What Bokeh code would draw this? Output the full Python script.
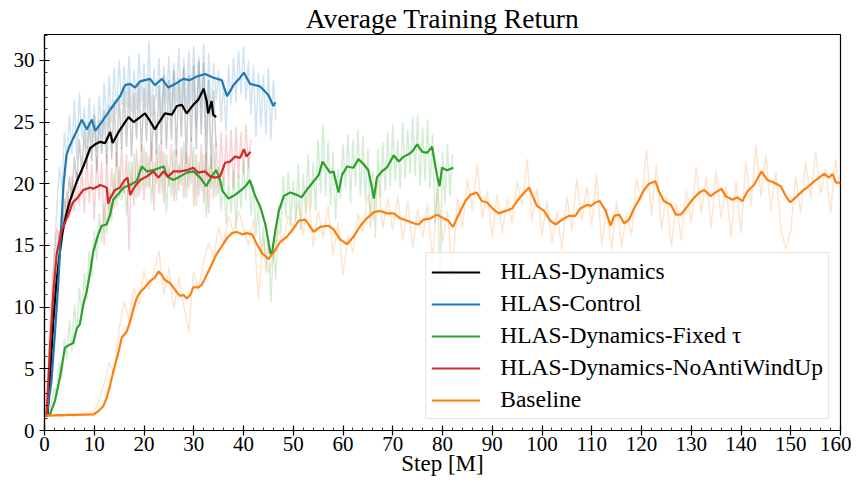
import numpy as np
from bokeh.plotting import figure
from bokeh.models import Range1d, Legend, LegendItem, SingleIntervalTicker
from bokeh.embed import file_html
from bokeh.resources import INLINE

series_names = ["HLAS-Dynamics", "HLAS-Control", "HLAS-Dynamics-Fixed \u03c4",
                "HLAS-Dynamics-NoAntiWindUp", "Baseline"]

dyn_x = [0, 0.6, 1.2, 1.8, 2.4, 3.0, 3.6, 4.3, 5.1, 6.5, 7.8, 9.2, 10.2, 11.2, 12.2, 13.2, 13.7, 14.9, 16.2,
         16.9, 17.9, 18.9, 20.2, 21.2, 22.2, 22.9, 24.2, 25.6, 26.6, 27.6, 28.6, 29.9, 30.9, 32.0, 32.6, 32.9,
         33.6, 33.9, 34.5]
dyn_y = [1.2, 1.2, 5.0, 9.0, 12.0, 14.2, 16.0, 17.4, 18.6, 20.2, 21.4, 22.9, 23.2, 23.4, 23.3, 24.2, 23.3, 24.2,
         25.0, 25.4, 25.0, 25.3, 25.7, 25.1, 24.4, 24.9, 25.7, 25.6, 26.3, 26.4, 25.7, 26.4, 26.8, 27.7, 26.7,
         25.7, 26.7, 25.6, 25.4]
ctl_x = [0, 0.5, 1.4, 2.2, 2.8, 3.3, 3.8, 4.4, 5.0, 5.8, 6.5, 7.5, 8.5, 9.5, 10.2, 11.5, 13.2, 15.2, 16.2, 17.2,
         18.2, 19.2, 21.2, 22.2, 23.6, 24.9, 26.3, 27.9, 29.2, 30.6, 32.3, 34.0, 35.6, 36.7, 38.0, 39.3, 40.1,
         41.3, 43.3, 45.0, 46.0, 46.4]
ctl_y = [1.2, 1.3, 4.0, 8.5, 12.1, 16.0, 19.8, 22.3, 23.0, 23.7, 24.3, 25.2, 24.4, 25.2, 24.3, 25.0, 26.0, 27.1,
         28.0, 28.1, 27.8, 28.3, 28.5, 28.0, 28.5, 27.8, 28.1, 28.5, 28.4, 28.7, 28.9, 28.6, 28.4, 27.1, 28.0,
         28.6, 29.0, 28.1, 27.9, 27.2, 26.3, 26.6]
fix_x = [0, 1.1, 2.1, 3.1, 4.1, 4.8, 5.8, 6.5, 7.1, 7.8, 8.5, 9.2, 9.8, 10.8, 11.5, 12.5, 13.2, 13.8, 14.9, 15.9,
         17.2, 18.5, 19.6, 20.6, 21.9, 23.2, 24.0, 24.6, 25.9, 27.3, 28.6, 29.9, 31.3, 32.5, 33.6, 34.5, 35.3,
         35.8, 37.0, 38.3, 39.6, 40.6, 41.3, 42.0, 42.7, 43.4, 44.4, 45.4, 45.7, 46.4, 47.1, 48.1, 49.4, 50.7,
         51.7, 52.7, 53.7, 55.1, 55.9, 56.7, 57.4, 58.1, 59.1, 59.8, 60.8, 62.1, 63.1, 64.1, 65.1, 65.8, 66.2,
         66.8, 67.8, 68.8, 70.2, 71.2, 72.2, 73.2, 73.9, 74.9, 75.9, 76.9, 77.9, 78.9, 79.4, 79.9, 80.9, 82.2]
fix_y = [1.2, 1.3, 2.4, 4.3, 6.7, 6.9, 7.1, 8.3, 8.6, 10.2, 11.3, 12.9, 14.5, 15.9, 16.6, 16.7, 17.5, 18.7, 19.2,
         19.7, 19.9, 20.2, 21.4, 21.0, 21.1, 21.3, 21.4, 20.6, 20.3, 20.6, 20.9, 21.0, 20.5, 19.8, 20.6, 21.1,
         20.3, 19.4, 18.8, 19.1, 19.5, 19.9, 20.3, 19.4, 18.7, 18.1, 16.7, 14.4, 14.3, 16.2, 17.8, 19.0, 19.3,
         19.1, 18.9, 19.5, 20.0, 20.7, 21.8, 21.3, 20.9, 21.0, 19.3, 20.7, 21.4, 21.3, 22.0, 21.6, 21.1, 19.7,
         18.8, 20.5, 21.0, 21.3, 22.3, 21.8, 22.2, 22.4, 22.6, 23.2, 22.6, 22.5, 23.0, 20.7, 19.8, 21.3, 21.1, 21.3]
naw_x = [0, 0.44, 1.1, 1.8, 2.45, 3.46, 4.8, 5.7, 6.5, 7.8, 9.2, 9.8, 10.8, 11.2, 12.5, 12.8, 13.2, 13.85, 14.2,
         15.2, 15.9, 16.7, 17.2, 18.2, 19.2, 20.6, 21.9, 22.9, 23.9, 24.9, 25.9, 27.3, 28.6, 29.9, 30.9, 32.3,
         33.3, 34.3, 35.3, 36.3, 37.3, 38.3, 39.3, 40.1, 40.6, 41.4]
naw_y = [1.2, 1.3, 6.7, 11.3, 14.3, 16.2, 17.5, 18.5, 18.8, 19.5, 19.7, 19.6, 19.8, 19.9, 19.7, 18.4, 18.8, 19.3,
         19.5, 19.7, 20.2, 20.5, 19.1, 19.8, 20.3, 20.6, 21.0, 20.5, 21.0, 20.6, 21.0, 21.0, 21.1, 21.3, 20.9,
         21.0, 20.6, 20.5, 20.6, 21.7, 21.8, 22.2, 22.1, 22.8, 22.2, 22.6]
base_x = [0, 9.8, 10.8, 11.8, 12.5, 13.2, 13.85, 14.9, 15.5, 16.5, 17.2, 17.9, 18.5, 19.2, 20.2, 21.2, 22.2, 22.9,
          23.6, 24.2, 25.2, 25.9, 26.6, 27.3, 27.9, 28.6, 29.3, 29.9, 30.9, 31.6, 32.6, 33.6, 34.6, 35.6, 36.7,
          37.7, 38.7, 39.7, 40.7, 41.7, 42.7, 43.7, 45.0, 46.0, 47.4, 48.7, 50.1, 51.1, 52.4, 53.1, 54.1, 55.4,
          57.1, 58.1, 59.4, 60.8, 62.1, 63.5, 64.8, 66.2, 67.5, 68.8, 70.2, 71.5, 72.9, 74.2, 75.2, 76.2, 77.6,
          78.9, 80.2, 81.2, 82.1, 82.9, 83.6, 84.6, 85.6, 86.9, 87.9, 88.9, 90.3, 91.3, 92.7, 94.0, 95.0, 96.0,
          97.4, 98.0, 99.0, 100.4, 101.7, 102.7, 104.1, 105.4, 106.7, 107.7, 109.1, 109.8, 110.8, 111.6, 112.8,
          113.8, 114.5, 115.5, 116.5, 117.5, 118.5, 119.5, 120.5, 121.5, 122.8, 123.5, 124.5, 125.9, 126.9,
          127.9, 128.9, 130.2, 131.6, 132.6, 133.9, 134.9, 136.1, 136.9, 138.3, 139.3, 140.3, 141.3, 142.6,
          144.1, 145.3, 146.6, 148.0, 149.0, 149.9, 151.0, 152.3, 153.3, 154.7, 155.7, 156.7, 157.7, 158.4,
          159.1, 160.0]
base_y = [1.2, 1.3, 1.56, 1.96, 2.64, 3.7, 4.8, 6.4, 7.5, 8.0, 8.8, 9.9, 10.7, 11.2, 11.6, 12.1, 12.4, 12.9,
          12.6, 12.2, 11.96, 11.6, 11.2, 10.9, 11.0, 10.7, 11.0, 11.6, 11.6, 11.8, 12.6, 13.45, 14.3, 14.9, 15.6,
          16.0, 16.1, 15.9, 16.0, 15.9, 15.1, 14.4, 13.9, 14.4, 15.3, 15.7, 16.4, 17.0, 17.1, 16.7, 16.1, 16.5,
          16.6, 16.3, 15.5, 15.1, 15.7, 16.6, 17.2, 17.7, 17.8, 17.6, 17.6, 17.2, 17.0, 16.8, 16.7, 17.1, 17.2,
          17.5, 17.2, 17.0, 16.5, 17.2, 17.8, 18.6, 19.1, 19.3, 18.6, 18.5, 17.9, 17.6, 17.8, 18.0, 18.6, 19.1,
          19.7, 19.1, 18.2, 17.8, 17.0, 16.7, 17.1, 17.4, 17.4, 18.0, 18.3, 18.2, 18.5, 18.6, 17.8, 16.6, 17.4,
          17.5, 16.8, 17.1, 18.0, 18.7, 19.5, 20.0, 20.2, 19.4, 18.6, 18.3, 17.5, 17.5, 18.0, 18.7, 19.3, 19.5,
          19.0, 19.3, 19.6, 19.0, 18.7, 18.9, 18.6, 19.4, 19.9, 21.0, 20.3, 20.1, 19.8, 19.0, 18.5, 18.9, 19.4,
          19.7, 20.2, 20.5, 20.8, 20.5, 20.8, 20.1, 20.1]

dyn_raw = [1.2, 1.6, 4.8, 8.6, 12.4, 14.8, 16.2, 15.0, 18.8, 17.4,
           20.6, 18.8, 22.2, 20.0, 23.6, 20.8, 24.4, 21.2, 25.0, 21.8,
           25.6, 21.0, 25.2, 22.4, 26.0, 21.6, 26.4, 22.0, 26.8, 21.4,
           27.2, 22.8, 27.6, 23.0, 28.0, 22.2, 27.4, 23.6, 28.2, 22.6,
           27.8, 23.4, 28.6, 21.8, 27.2, 22.4, 28.0, 23.2, 28.8, 22.8,
           28.4, 23.6, 29.2, 22.2, 28.6, 23.8, 29.4, 21.6, 28.8, 23.4,
           29.6, 22.8, 30.0, 24.0, 29.8, 20.6, 28.4, 21.2, 27.6, 23.0]
ctl_raw = [1.2, 1.8, 5.5, 9.8, 14.6, 18.2, 21.4, 19.6, 24.2, 21.8,
           25.6, 22.4, 26.8, 22.0, 27.4, 23.6, 26.2, 22.8, 27.0, 23.4,
           26.4, 22.6, 27.2, 23.8, 28.2, 24.4, 28.8, 25.0, 29.4, 25.6,
           30.0, 26.4, 29.6, 26.2, 30.4, 25.8, 29.2, 26.0, 30.6, 26.6,
           29.8, 26.2, 31.6, 25.4, 29.4, 26.8, 30.2, 25.0, 29.6, 26.4,
           30.4, 25.8, 29.8, 26.6, 31.0, 26.2, 30.2, 25.6, 30.8, 26.8,
           31.2, 24.6, 30.4, 26.2, 31.4, 23.8, 30.6, 25.4, 29.8, 26.8,
           29.2, 25.0, 28.4, 24.2, 29.6, 26.4, 30.2, 26.6, 30.8, 27.2,
           31.2, 26.8, 30.0, 25.6, 29.6, 23.8, 29.0, 24.6, 28.8, 24.0,
           29.4, 23.6, 28.4, 25.2]
fix_raw = [1.2, 1.3, 1.6, 2.4, 3.5, 2.8, 5.6, 4.2, 7.4, 5.8,
           8.9, 6.4, 10.2, 7.9, 11.6, 9.3, 12.8, 10.6, 14.6, 12.4,
           16.2, 13.8, 17.6, 15.2, 18.4, 15.9, 19.6, 17.0, 20.8, 18.2,
           21.4, 18.6, 20.2, 17.4, 21.8, 19.0, 22.4, 18.8, 21.6, 19.4,
           23.0, 19.6, 22.2, 18.4, 21.8, 20.0, 23.2, 19.2, 22.6, 17.6,
           21.4, 19.0, 22.8, 18.6, 21.6, 19.8, 23.4, 18.8, 22.2, 20.0,
           23.0, 18.2, 21.8, 19.4, 22.4, 17.2, 21.6, 19.6, 23.2, 19.0,
           21.4, 17.8, 20.6, 16.8, 20.2, 17.6, 21.0, 16.4, 20.8, 18.0,
           21.8, 18.6, 22.2, 17.4, 20.0, 15.8, 18.2, 14.0, 16.6, 12.8,
           15.6, 10.4, 15.0, 12.2, 18.4, 16.0, 20.6, 17.2, 21.0, 16.6,
           20.2, 17.0, 21.6, 16.2, 20.8, 17.6, 22.4, 18.0, 21.8, 17.8,
           23.6, 19.2, 24.8, 19.0, 23.4, 18.2, 22.6, 17.0, 21.2, 18.8,
           23.2, 19.6, 24.0, 18.4, 23.6, 19.8, 24.4, 19.0, 23.8, 18.6,
           22.8, 16.4, 21.0, 15.6, 22.8, 18.8, 23.4, 19.4, 24.2, 19.8,
           24.8, 20.2, 23.6, 19.6, 25.0, 20.4, 24.4, 20.8, 25.4, 20.6,
           25.6, 19.8, 24.6, 20.2, 25.2, 19.6, 24.0, 16.8, 20.4, 11.8,
           22.6, 18.4, 23.2, 19.0, 22.4]
naw_raw = [1.2, 2.6, 7.8, 11.6, 14.2, 16.4, 15.2, 18.0, 16.6, 19.4,
           17.2, 20.6, 17.8, 21.0, 18.2, 21.4, 17.6, 22.0, 18.4, 21.6,
           17.0, 22.2, 18.6, 21.8, 15.0, 22.4, 17.4, 21.2, 18.0, 22.6,
           18.8, 23.0, 19.2, 22.4, 14.6, 21.8, 18.2, 22.8, 19.0, 23.2,
           18.6, 22.6, 19.6, 23.4, 17.8, 22.8, 19.2, 23.6, 18.4, 22.4,
           19.8, 23.2, 18.6, 22.8, 19.4, 23.0, 18.8, 22.6, 19.6, 23.8,
           18.2, 22.4, 19.0, 23.2, 18.4, 22.6, 17.6, 22.2, 18.8, 23.4,
           19.2, 24.2, 19.8, 24.0, 20.2, 24.4, 19.6, 24.6, 20.4, 24.2,
           20.8, 24.8, 21.2, 23.6]
base_raw = [1.1, 1.2, 1.3, 1.1, 1.2, 1.4, 1.1, 1.3, 1.2, 1.4,
            1.6, 2.5, 3.8, 5.5, 4.6, 8.2, 10.5, 8.9, 11.6, 10.2,
            13.0, 11.4, 12.8, 14.6, 11.0, 13.2, 9.8, 12.4, 10.1, 8.0,
            12.9, 11.3, 13.8, 15.2, 14.0, 16.5, 15.1, 17.4, 16.0, 17.8,
            16.4, 15.0, 17.2, 10.6, 15.6, 12.8, 14.0, 16.3, 15.1, 17.5,
            16.0, 18.6, 15.8, 19.4, 14.9, 17.8, 15.6, 18.2, 14.2, 16.9,
            12.6, 15.8, 14.4, 17.6, 16.0, 19.2, 17.0, 20.6, 16.4, 18.8,
            16.2, 19.0, 15.4, 18.6, 14.8, 17.9, 15.6, 18.4, 13.8, 19.6,
            15.2, 17.8, 12.6, 18.9, 16.4, 20.4, 17.8, 21.6, 17.2, 19.4,
            15.6, 19.2, 16.0, 18.8, 16.8, 20.2, 18.2, 22.0, 17.0, 19.6,
            15.8, 18.6, 15.2, 17.8, 14.6, 19.0, 16.2, 20.4, 17.0, 19.8,
            16.6, 20.8, 15.0, 18.0, 14.6, 18.6, 14.8, 17.6, 15.8, 20.4,
            18.6, 22.8, 17.4, 21.6, 16.2, 19.0, 14.9, 18.4, 15.4, 19.6,
            16.8, 21.4, 17.6, 20.6, 16.4, 21.0, 17.2, 19.8, 15.6, 20.2,
            16.0, 21.8, 18.2, 23.2, 19.0, 22.4, 17.8, 21.0, 16.4, 14.7,
            16.2, 20.6, 17.6, 21.8, 18.8, 22.6, 19.2, 21.2, 17.6, 22.0,
            19.4]
raw_step = 0.5
base_raw_step = 1.0

colors = ["#000000", "#1f77b4", "#2ca02c", "#d62728", "#ff7f0e"]

p = figure(width=851, height=478, output_backend="svg", toolbar_location=None,
           x_range=Range1d(0, 160), y_range=Range1d(0, 32.1),
           min_border_left=44, min_border_right=11, min_border_top=0, min_border_bottom=0)
p.background_fill_color = "white"
p.border_fill_color = "white"
p.grid.visible = False
p.outline_line_color = "black"
p.outline_line_width = 1.2
p.outline_line_alpha = 1

serif = "'Liberation Serif'"
p.title.text = "Average Training Return"
p.title.align = "center"
p.title.text_font = serif
p.title.text_font_size = "27.5px"
p.title.text_font_style = "normal"
p.title.text_color = "black"
p.title.text_line_height = 1.0
p.title.standoff = 1

p.xaxis.ticker = SingleIntervalTicker(interval=10, num_minor_ticks=5)
p.yaxis.ticker = SingleIntervalTicker(interval=5, num_minor_ticks=5)
for ax in (p.xaxis[0], p.yaxis[0]):
    ax.axis_line_color = "black"
    ax.axis_line_width = 1.2
    ax.major_tick_line_color = "black"
    ax.major_tick_line_width = 1.2
    ax.minor_tick_line_color = "black"
    ax.minor_tick_line_width = 0.8
    ax.major_tick_in = 5
    ax.major_tick_out = 5
    ax.minor_tick_in = 3
    ax.minor_tick_out = 0
    ax.major_label_text_font = serif
    ax.major_label_text_font_size = "21px"
    ax.major_label_text_font_style = "normal"
    ax.major_label_text_color = "black"
p.yaxis.major_label_standoff = 5
p.xaxis.major_label_standoff = 1
p.xaxis.axis_label = "Step [M]"
p.xaxis.axis_label_text_font = serif
p.xaxis.axis_label_text_font_size = "23px"
p.xaxis.axis_label_text_font_style = "normal"
p.xaxis.axis_label_text_color = "black"
p.xaxis.axis_label_standoff = -3

raws = [(dyn_raw, raw_step), (ctl_raw, raw_step), (fix_raw, raw_step), (naw_raw, raw_step),
        (base_raw, base_raw_step)]
for (vals, step), c in zip(raws, colors):
    xs = np.arange(len(vals)) * step
    p.line(xs, vals, line_color=c, line_alpha=0.2, line_width=1.5)

smooth = [(dyn_x, dyn_y), (ctl_x, ctl_y), (fix_x, fix_y), (naw_x, naw_y), (base_x, base_y)]
renderers = []
for (xs, ys), c in zip(smooth, colors):
    r = p.line(xs, ys, line_color=c, line_width=2.2)
    renderers.append(r)

legend = Legend(items=[LegendItem(label=n, renderers=[r]) for n, r in zip(series_names, renderers)],
                location="bottom_right")
legend.label_text_font = serif
legend.label_text_font_style = "normal"
legend.label_text_font_size = "23.5px"
legend.label_text_line_height = 1.0
legend.label_text_color = "black"
legend.glyph_width = 49
legend.glyph_height = 24
legend.label_height = 24
legend.label_standoff = 20
legend.padding = 5
legend.spacing = 5
legend.margin = 11
legend.border_line_color = "#cccccc"
legend.border_line_width = 1
legend.background_fill_color = "white"
legend.background_fill_alpha = 0.8
p.add_layout(legend, "center")

open("out.html", "w").write(file_html(p, INLINE))
